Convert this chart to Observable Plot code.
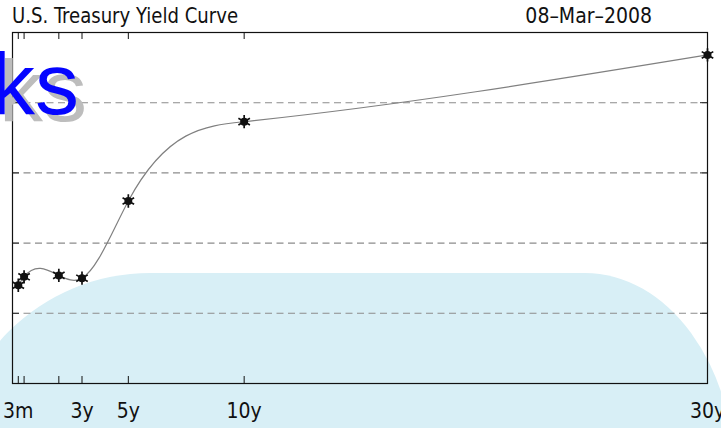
<!DOCTYPE html>
<html>
<head>
<meta charset="utf-8">
<script src="https://cdn.jsdelivr.net/npm/d3@7"></script>
<script src="https://cdn.jsdelivr.net/npm/@observablehq/plot@0.6"></script>
<style>
  html, body { margin: 0; padding: 0; background: #fff; }
  #wrap { position: relative; width: 721px; height: 428px; overflow: hidden; background: #fff;
          font-family: "DejaVu Sans Condensed", "Liberation Sans Narrow", "Roboto", sans-serif; color: #111; }
  #blob { position: absolute; left: -50px; top: 273px; width: 785px; height: 400px; background: #d8eff6;
          border-radius: 200px 150px 0 0 / 200px 205px 0 0; z-index: 0; }
  #title, #date { position: absolute; top: 4px; font-size: 21px; line-height: 24px; white-space: nowrap; z-index: 2; }
  #title { left: 12px; transform: scaleX(0.957); transform-origin: 0 0; }
  #date { right: 69px; }
  #chart { position: absolute; left: 0; top: 31px; z-index: 1; }
  #logo { position: absolute; left: -9px; top: 40px; font-family: "Liberation Sans", Arial, sans-serif; font-size: 88px;
          line-height: 88px; color: #0505ff; text-shadow: 8px 7px 0 #bdbdbd; z-index: 3; white-space: nowrap; }
</style>
</head>
<body>
<div id="wrap">
  <div id="blob"></div>
  <div id="title"></div>
  <div id="date"></div>
  <div id="chart"></div>
  <div id="logo"></div>
</div>
<script>
// ---- data ----
const titleText = "U.S. Treasury Yield Curve";
const dateText = "08\u2013Mar\u20132008";
const logoText = "ks";
const maturityLabels = ["3m", "6m", "2y", "3y", "5y", "10y", "30y"];
const maturityYears = [0.25, 0.5, 2, 3, 5, 10, 30];
const yields = [1.40, 1.52, 1.54, 1.50, 2.60, 3.73, 4.68];
const shownTickLabels = ["3m", "3y", "5y", "10y", "30y"];
const yTicks = [0, 1, 2, 3, 4, 5];

const points = maturityYears.map((t, i) => ({t, v: yields[i], label: maturityLabels[i]}));

// natural cubic spline in x (y = f(x)), drawn exactly with Bezier segments
function NaturalX(context) { this._context = context; }
NaturalX.prototype = {
  areaStart() { this._line = 0; },
  areaEnd() { this._line = NaN; },
  lineStart() { this._x = []; this._y = []; },
  point(x, y) { this._x.push(+x); this._y.push(+y); },
  lineEnd() {
    const x = this._x, y = this._y, n = x.length, c = this._context;
    if (!n) return;
    c.moveTo(x[0], y[0]);
    if (n === 2) { c.lineTo(x[1], y[1]); return; }
    const h = [], M = new Array(n).fill(0), a = [], b = [], cc = [], d = [];
    for (let i = 0; i < n - 1; i++) h[i] = x[i + 1] - x[i];
    for (let i = 1; i < n - 1; i++) {
      a[i] = h[i - 1]; b[i] = 2 * (h[i - 1] + h[i]); cc[i] = h[i];
      d[i] = 6 * ((y[i + 1] - y[i]) / h[i] - (y[i] - y[i - 1]) / h[i - 1]);
    }
    for (let i = 2; i < n - 1; i++) { const w = a[i] / b[i - 1]; b[i] -= w * cc[i - 1]; d[i] -= w * d[i - 1]; }
    M[n - 2] = d[n - 2] / b[n - 2];
    for (let i = n - 3; i >= 1; i--) M[i] = (d[i] - cc[i] * M[i + 1]) / b[i];
    for (let i = 0; i < n - 1; i++) {
      const s = (y[i + 1] - y[i]) / h[i];
      const m0 = s - h[i] * (2 * M[i] + M[i + 1]) / 6;
      const m1 = s + h[i] * (M[i] + 2 * M[i + 1]) / 6;
      c.bezierCurveTo(x[i] + h[i] / 3, y[i] + m0 * h[i] / 3, x[i + 1] - h[i] / 3, y[i + 1] - m1 * h[i] / 3, x[i + 1], y[i + 1]);
    }
  }
};
const curveNaturalX = (ctx) => new NaturalX(ctx);

const H = 397, MT = 1, MB = 45, frameH = H - MT - MB;
const W = 721, ML = 12, MR = 14, frameW = W - ML - MR;
const tickLen = 7;

const chart = Plot.plot({
  width: W, height: H,
  marginTop: MT, marginBottom: MB, marginLeft: ML, marginRight: MR,
  x: {domain: [0, 30]},
  y: {domain: [0, 5], axis: null},
  style: {background: "transparent", fontFamily: "'DejaVu Sans Condensed', 'Liberation Sans Narrow', Roboto, sans-serif", fontSize: "21px", color: "#111", overflow: "visible"},
  marks: [
    Plot.gridY(yTicks.slice(1, -1), {stroke: "#8c8c8c", strokeOpacity: 1, strokeWidth: 1.1, strokeDasharray: "7,4.5"}),
    Plot.tickX(maturityYears, {x: d => d, insetTop: frameH - tickLen, stroke: "#111"}),
    Plot.tickX(maturityYears, {x: d => d, insetBottom: frameH - tickLen, stroke: "#111"}),
    Plot.tickY(yTicks, {y: d => d, insetRight: frameW - tickLen, stroke: "#222"}),
    Plot.tickY(yTicks, {y: d => d, insetLeft: frameW - tickLen, stroke: "#222"}),
    Plot.axisX(maturityYears, {anchor: "bottom", tickSize: 0, tickPadding: 20, label: null,
      tickFormat: (d, i) => shownTickLabels.includes(maturityLabels[i]) ? maturityLabels[i] : ""}),
    Plot.frame({stroke: "#111", strokeWidth: 1.2}),
    Plot.line(points, {x: "t", y: "v", curve: curveNaturalX, stroke: "#808080", strokeWidth: 1.2}),
    Plot.dot(points, {x: "t", y: "v", r: 4, fill: "#111", stroke: "none"}),
    Plot.dot(points, {x: "t", y: "v", symbol: "asterisk", r: 6.3, stroke: "#111", strokeWidth: 1.7})
  ]
});
document.getElementById("chart").appendChild(chart);
document.getElementById("title").textContent = titleText;
document.getElementById("date").textContent = dateText;
document.getElementById("logo").textContent = logoText;
</script>
</body>
</html>
